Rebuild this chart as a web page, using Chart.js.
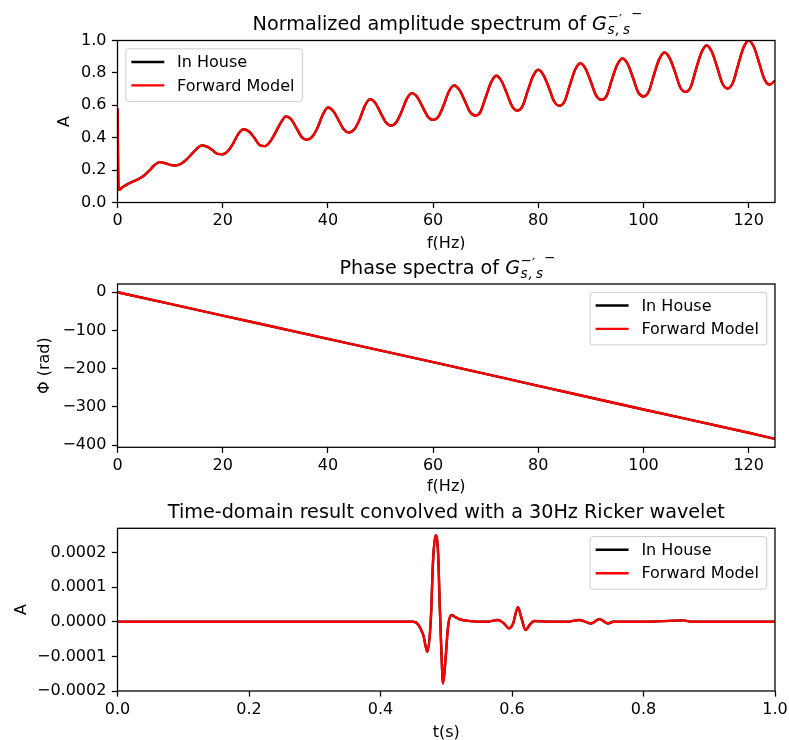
<!DOCTYPE html>
<html>
<head>
<meta charset="utf-8">
<script src="https://cdn.jsdelivr.net/npm/chart.js@4.4.1/dist/chart.umd.min.js"></script>
<style>
  html, body { margin: 0; padding: 0; background: #fff; }
  #wrap { position: relative; width: 789px; height: 740px; background: #fff; overflow: hidden; }
  canvas { position: absolute; left: 0; }
</style>
</head>
<body>
<div id="wrap">
  <canvas id="c1" width="789" height="250" style="top:0px"></canvas>
  <canvas id="c2" width="789" height="250" style="top:250px"></canvas>
  <canvas id="c3" width="789" height="240" style="top:500px"></canvas>
</div>
<script>
// ---------------- DATA ----------------
const seriesNames = ["In House", "Forward Model"];
const seriesColors = ["#000000", "#ff0000"];

// Panel 1: normalized amplitude spectrum
const freqAmp = [0, 0.2, 1, 2, 3, 4, 5, 6, 7, 8, 9, 10, 11, 12, 13, 14, 15, 16, 17, 18, 19, 20,
  21, 22, 23, 24, 25, 26, 27, 28, 29, 30, 31, 32, 33, 34, 35, 36, 37, 38, 39, 40,
  41, 42, 43, 44, 45, 46, 47, 48, 49, 50, 51, 52, 53, 54, 55, 56, 57, 58, 59, 60,
  61, 62, 63, 64, 65, 66, 67, 68, 69, 70, 71, 72, 73, 74, 75, 76, 77, 78, 79, 80,
  81, 82, 83, 84, 85, 86, 87, 88, 89, 90, 91, 92, 93, 94, 95, 96, 97, 98, 99, 100,
  101, 102, 103, 104, 105, 106, 107, 108, 109, 110, 111, 112, 113, 114, 115, 116, 117, 118, 119, 120,
  121, 122, 123, 124, 125];
const ampInHouse = [0.58, 0.078,
  0.095, 0.115, 0.13, 0.145, 0.165, 0.195, 0.23, 0.249,
  0.243, 0.232, 0.228, 0.238, 0.262, 0.295, 0.33, 0.352,
  0.345, 0.325, 0.300, 0.298, 0.318, 0.365, 0.425, 0.452,
  0.438, 0.400, 0.355, 0.348, 0.375, 0.43, 0.49, 0.531,
  0.515, 0.46, 0.405, 0.387, 0.405, 0.46, 0.54, 0.586,
  0.565, 0.51, 0.452, 0.432, 0.45, 0.51, 0.595, 0.638,
  0.615, 0.555, 0.495, 0.475, 0.495, 0.56, 0.64, 0.675,
  0.65, 0.59, 0.53, 0.51, 0.53, 0.6, 0.685, 0.722,
  0.695, 0.63, 0.56, 0.537, 0.56, 0.65, 0.74, 0.782,
  0.75, 0.675, 0.595, 0.568, 0.595, 0.69, 0.78, 0.819,
  0.785, 0.71, 0.625, 0.597, 0.625, 0.725, 0.82, 0.86,
  0.825, 0.745, 0.66, 0.634, 0.66, 0.76, 0.85, 0.889,
  0.855, 0.77, 0.68, 0.654, 0.685, 0.79, 0.885, 0.926,
  0.89, 0.805, 0.71, 0.683, 0.715, 0.825, 0.925, 0.969,
  0.93, 0.835, 0.735, 0.704, 0.74, 0.85, 0.955, 1.0,
  0.96, 0.86, 0.76, 0.728, 0.752];
const ampForward = ampInHouse.slice();   // the two curves coincide in the figure
const ampXTicks = [0, 20, 40, 60, 80, 100, 120];
const ampYTicks = [0, 0.2, 0.4, 0.6, 0.8, 1.0];

// Panel 2: phase spectra
const freqPhase = [0, 20, 40, 60, 80, 100, 120, 125];
const phaseInHouse = [0, -61, -122, -183, -245, -307, -368, -384];
const phaseForward = phaseInHouse.slice();
const phaseXTicks = [0, 20, 40, 60, 80, 100, 120];
const phaseYTicks = [0, -100, -200, -300, -400];

// Panel 3: time-domain result
const timeS = [0, 0.45, 0.457, 0.465, 0.4714, 0.4765, 0.48, 0.4836, 0.4876, 0.490, 0.4927, 0.4951,
  0.4988, 0.5027, 0.5079, 0.513, 0.5205, 0.536, 0.561, 0.5787, 0.5873, 0.5954, 0.6015, 0.609,
  0.6142, 0.6207, 0.6279, 0.6344, 0.657, 0.683, 0.7028, 0.7205, 0.733, 0.7458, 0.754, 0.80,
  0.8597, 0.875, 1.0];
const timeInHouse = [0, 0, -0.7e-5, -3.8e-5, -8.7e-5, 0.5e-5, 17.8e-5, 25.0e-5, 19.8e-5, 5.3e-5, -9.1e-5, -17.8e-5,
  -11.1e-5, -1.45e-5, 1.94e-5, 1.45e-5, 0.7e-5, 0.2e-5, 0, 0.5e-5, -0.4e-5, -1.9e-5, -0.6e-5, 4.2e-5,
  1.2e-5, -2.4e-5, -0.6e-5, 0.2e-5, 0, 0, 0.5e-5, -0.5e-5, 0.77e-5, -0.5e-5, 0, 0,
  0.4e-5, 0, 0];
const timeForward = timeInHouse.slice();
const timeXTicks = [0, 0.2, 0.4, 0.6, 0.8, 1.0];
const timeYTicks = [-0.0002, -0.0001, 0, 0.0001, 0.0002];

// ---------------- HELPERS ----------------
const FONT = '"DejaVu Sans", "Liberation Sans", sans-serif';
const MINUS = '\u2212';
function fmtMinus(s) { return s.replace('-', MINUS); }

function pts(xs, ys) { return xs.map((x, i) => ({ x: x, y: ys[i] })); }

function drawScriptTitle(ctx, main, hasMath, cx, base) {
  ctx.save();
  ctx.fillStyle = '#000';
  ctx.textBaseline = 'alphabetic';
  ctx.textAlign = 'left';
  const big = '19.2px ' + FONT;
  const bigIt = 'italic 19.2px ' + FONT;
  const small = 'italic 13.4px ' + FONT;
  const smallUp = '13.4px ' + FONT;
  ctx.font = big;
  const w1 = ctx.measureText(main).width;
  let wG = 0, extra = 0;
  if (hasMath) { ctx.font = bigIt; wG = ctx.measureText('G').width; extra = 33; }
  const x0 = cx - (w1 + wG + extra) / 2;
  ctx.font = big;
  ctx.fillText(main, x0, base);
  if (hasMath) {
    ctx.font = bigIt;
    ctx.fillText('G', x0 + w1, base);
    const gx = x0 + w1 + wG;
    ctx.font = small;
    ctx.fillText('s', gx + 0.5, base + 4.5);
    ctx.fillText(',', gx + 8.5, base + 4.5);
    ctx.fillText('s', gx + 16, base + 4.5);
    ctx.font = smallUp;
    ctx.fillText(MINUS, gx + 0.5, base - 8.5);
    ctx.fillText('\u2032', gx + 12, base - 6);
    ctx.fillText(MINUS, gx + 24, base - 11.5);
  }
  ctx.restore();
}

function drawLegend(ctx, a, pos) {
  const w = 176.6, h = 52.6;
  const x = pos === 'tl' ? a.left + 8.3 : a.right - 8.3 - w;
  const y = a.top + 8.3;
  ctx.save();
  ctx.beginPath();
  if (ctx.roundRect) ctx.roundRect(x, y, w, h, 3); else ctx.rect(x, y, w, h);
  ctx.fillStyle = 'rgba(255,255,255,0.8)';
  ctx.fill();
  ctx.strokeStyle = '#cccccc';
  ctx.lineWidth = 1;
  ctx.stroke();
  ctx.font = '16px ' + FONT;
  ctx.textBaseline = 'middle';
  ctx.textAlign = 'left';
  for (let i = 0; i < seriesNames.length; i++) {
    const ly = y + 13.2 + i * 23.4;
    ctx.beginPath();
    ctx.moveTo(x + 5.5, ly);
    ctx.lineTo(x + 38.5, ly);
    ctx.strokeStyle = seriesColors[i];
    ctx.lineWidth = 2.4;
    ctx.stroke();
    ctx.fillStyle = '#000';
    ctx.fillText(seriesNames[i], x + 51.3, ly + 1);
  }
  ctx.restore();
}

const mplDecor = {
  id: 'mplDecor',
  beforeDraw(chart) {
    const ctx = chart.ctx;
    ctx.save();
    ctx.fillStyle = '#fff';
    ctx.fillRect(0, 0, chart.width, chart.height);
    ctx.restore();
  },
  afterDraw(chart, args, o) {
    const ctx = chart.ctx, a = chart.chartArea;
    ctx.save();
    ctx.strokeStyle = '#000';
    ctx.lineWidth = 1.28;
    ctx.strokeRect(a.left, a.top, a.right - a.left, a.bottom - a.top);
    ctx.restore();
    const cx = (a.left + a.right) / 2;
    drawScriptTitle(ctx, o.title, o.math, cx, a.top - o.titleGap);
    ctx.save();
    ctx.fillStyle = '#000';
    ctx.font = '16px ' + FONT;
    ctx.textAlign = 'center';
    ctx.textBaseline = 'middle';
    ctx.fillText(o.xlabel, cx, a.bottom + o.xlabelGap);
    ctx.translate(o.ylabelX, (a.top + a.bottom) / 2);
    ctx.rotate(-Math.PI / 2);
    ctx.fillText(o.ylabel, 0, 0);
    ctx.restore();
    drawLegend(ctx, a, o.legendPos);
  }
};

function makeChart(id, cfg) {
  const tickFont = { family: FONT, size: 16 };
  const datasets = [
    { label: seriesNames[0], data: pts(cfg.x, cfg.y1), borderColor: seriesColors[0], order: 2 },
    { label: seriesNames[1], data: pts(cfg.x, cfg.y2), borderColor: seriesColors[1], order: 1 }
  ].map(d => Object.assign(d, { borderWidth: 2.4, pointRadius: 0, fill: false, cubicInterpolationMode: 'monotone', tension: 0.4 }));
  return new Chart(document.getElementById(id), {
    type: 'line',
    data: { datasets: datasets },
    plugins: [mplDecor],
    options: {
      responsive: false,
      animation: false,
      devicePixelRatio: 1,
      layout: { padding: { left: 0, right: 14, top: cfg.padTop, bottom: cfg.padBottom } },
      plugins: {
        legend: { display: false },
        tooltip: { enabled: false },
        mplDecor: cfg.decor
      },
      scales: {
        x: {
          type: 'linear', min: cfg.xmin, max: cfg.xmax,
          afterBuildTicks: s => { s.ticks = cfg.xTicks.map(v => ({ value: v })); },
          afterFit: s => { s.height = 30; s.paddingLeft = 0; s.paddingRight = 0; },
          ticks: { color: '#000', font: tickFont, padding: 3.5, maxRotation: 0, autoSkip: false, callback: cfg.xFmt },
          grid: { display: true, drawOnChartArea: false, drawTicks: true, tickLength: 5.6, tickWidth: 1.28, tickColor: '#000' },
          border: { display: false }
        },
        y: {
          type: 'linear', min: cfg.ymin, max: cfg.ymax,
          afterBuildTicks: s => { s.ticks = cfg.yTicks.map(v => ({ value: v })); },
          afterFit: s => { s.width = 117.5; s.paddingTop = 0; s.paddingBottom = 0; },
          ticks: { color: '#000', font: tickFont, padding: 5.5, autoSkip: false, callback: cfg.yFmt },
          grid: { display: true, drawOnChartArea: false, drawTicks: true, tickLength: 5.6, tickWidth: 1.28, tickColor: '#000' },
          border: { display: false }
        }
      }
    }
  });
}

makeChart('c1', {
  x: freqAmp, y1: ampInHouse, y2: ampForward,
  xmin: 0, xmax: 125, ymin: 0, ymax: 1,
  xTicks: ampXTicks, yTicks: ampYTicks,
  xFmt: v => String(v), yFmt: v => Number(v).toFixed(1),
  padTop: 40.5, padBottom: 17.5,
  decor: { title: 'Normalized amplitude spectrum of ', math: true, titleGap: 11, xlabel: 'f(Hz)', xlabelGap: 41, ylabel: 'A', ylabelX: 65, legendPos: 'tl' }
});

makeChart('c2', {
  x: freqPhase, y1: phaseInHouse, y2: phaseForward,
  xmin: 0, xmax: 125, ymin: -406, ymax: 21.7,
  xTicks: phaseXTicks, yTicks: phaseYTicks,
  xFmt: v => String(v), yFmt: v => fmtMinus(String(v)),
  padTop: 34, padBottom: 22.7,
  decor: { title: 'Phase spectra of ', math: true, titleGap: 10.5, xlabel: 'f(Hz)', xlabelGap: 40, ylabel: '\u03A6 (rad)', ylabelX: 45, legendPos: 'tr' }
});

makeChart('c3', {
  x: timeS, y1: timeInHouse, y2: timeForward,
  xmin: 0, xmax: 1, ymin: -0.0002, ymax: 0.00027,
  xTicks: timeXTicks, yTicks: timeYTicks,
  xFmt: v => Number(v).toFixed(1),
  yFmt: v => { const n = Math.abs(v) < 1e-12 ? 0 : Number(v); return fmtMinus(n.toFixed(4)); },
  padTop: 28.3, padBottom: 19,
  decor: { title: 'Time-domain result convolved with a 30Hz Ricker wavelet', math: false, titleGap: 10, xlabel: 't(s)', xlabelGap: 42, ylabel: 'A', ylabelX: 22, legendPos: 'tr' }
});
</script>
</body>
</html>
